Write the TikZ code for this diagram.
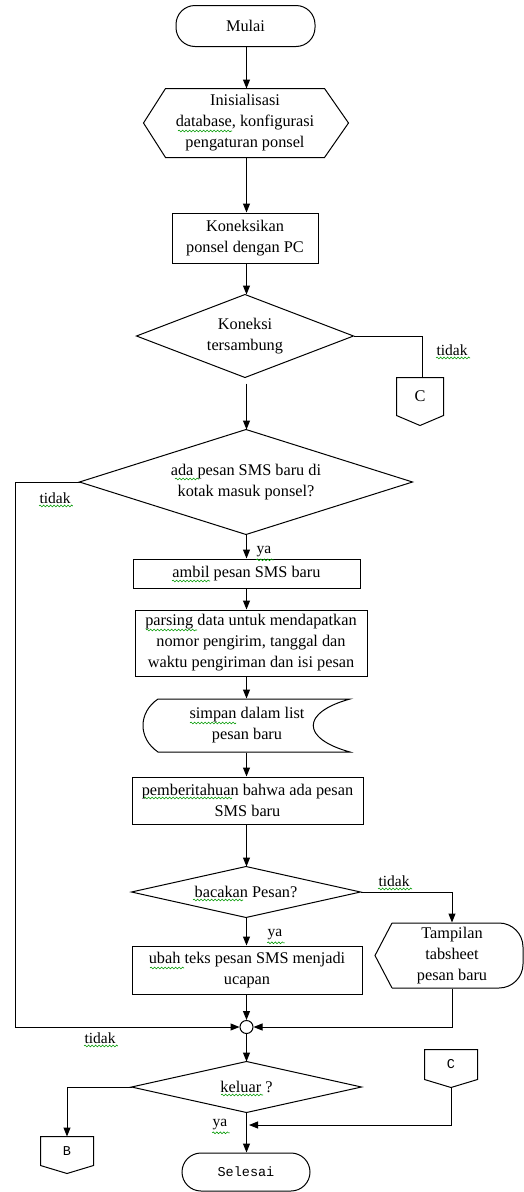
\documentclass[tikz,border=0pt]{standalone}
\usepackage{fontspec}
\setmainfont{Liberation Serif}
\newfontfamily\monofont{Liberation Mono}
\usetikzlibrary{arrows.meta,calc,decorations.pathmorphing}
\begin{document}
\begin{tikzpicture}[x=1pt,y=-1pt,
  line width=1pt,
  every node/.style={font=\fontsize{16.3}{21}\selectfont, align=center, inner sep=0pt},
  arr/.style={-{Triangle[length=9pt,width=7pt]}},
  term/.style={draw, rounded corners=19pt},
  lbl/.style={font=\fontsize{15.5}{18}\selectfont},
  mono/.style={font=\monofont\fontsize{13.5}{16}\selectfont},
  squig/.style={draw=green!60!black, line width=0.6pt, decorate, decoration={snake, amplitude=0.9pt, segment length=3.5pt}},
]
\useasboundingbox (0,0) rectangle (524,1192);
\coordinate (spine) at (246.5,0);
\coordinate (lx) at (15,0);

% nodes
\node[term, minimum width=139pt, minimum height=41pt] (start) at (245.5,26) {Mulai};
\node[minimum width=158pt, minimum height=68pt] (init) at (245,123) {Inisialisasi\\database, konfigurasi\\pengaturan ponsel};
\draw (init.north west) -- (init.north east) -- ([xshift=24pt]init.east) -- (init.south east) -- (init.south west) -- ([xshift=-22pt]init.west) -- cycle;
\node[draw, minimum width=146pt, minimum height=50pt] (konek) at (245,238) {Koneksikan\\ponsel dengan PC};
\node[minimum width=216pt, minimum height=82pt] (d1) at (245,336) {Koneksi\\tersambung};
\draw (d1.north) -- (d1.east) -- (d1.south) -- (d1.west) -- cycle;
\node[minimum width=46pt, minimum height=37pt] (c1) at (420,396.5) {C};
\coordinate (c1tip) at ($(c1.south)+(0,10)$);
\draw (c1.south west) -- (c1.north west) -- (c1.north east) -- (c1.south east) -- (c1tip) -- cycle;

\node[minimum width=332pt, minimum height=104pt] (d2) at (246,482) {ada pesan SMS baru di\\kotak masuk ponsel?};
\draw (d2.north) -- (d2.east) -- (d2.south) -- (d2.west) -- cycle;
\node[draw, minimum width=227pt, minimum height=29pt] (ambil) at (246.5,573.5) {ambil pesan SMS baru};
\node[draw, minimum width=232pt, minimum height=66pt] (parse) at (251,643) {parsing data untuk mendapatkan\\nomor pengirim, tanggal dan\\waktu pengiriman dan isi pesan};
\node[minimum width=180pt, minimum height=53pt] (store) at (247,725.5) {simpan dalam list\\pesan baru};
\draw ($(store.center)+(-89,-26.5)$) -- ($(store.center)+(103,-26.5)$)
  .. controls ($(store.center)+(54,-13)$) and ($(store.center)+(54,13)$) .. ($(store.center)+(103,26.5)$)
  -- ($(store.center)+(-89,26.5)$)
  .. controls ($(store.center)+(-109,13)$) and ($(store.center)+(-109,-13)$) .. cycle;
\node[draw, minimum width=231pt, minimum height=47pt] (pember) at (247.5,800.5) {pemberitahuan bahwa ada pesan\\SMS baru};
\node[minimum width=228pt, minimum height=50pt] (d3) at (246,892) {bacakan Pesan?};
\draw (d3.north) -- (d3.east) -- (d3.south) -- (d3.west) -- cycle;
\node[minimum width=120pt, minimum height=65pt] (disp) at (452,955.5) {Tampilan\\tabsheet\\pesan baru};
\draw ($(disp.center)+(-60,-32.5)$) -- ($(disp.center)+(-77,0)$) -- ($(disp.center)+(-60,32.5)$);
\draw[rounded corners=24pt] ($(disp.center)+(-60,-32.5)$) -- ($(disp.center)+(71,-32.5)$) -- ($(disp.center)+(71,32.5)$) -- ($(disp.center)+(-60,32.5)$);
\node[draw, minimum width=230pt, minimum height=48pt] (ubah) at (247,970) {ubah teks pesan SMS menjadi\\ucapan};
\node[draw, circle, minimum size=13pt] (j) at (246.5,1027) {};
\node[minimum width=229pt, minimum height=50pt] (d4) at (246.5,1087) {keluar ?};
\draw (d4.north) -- (d4.east) -- (d4.south) -- (d4.west) -- cycle;
\node[mono, minimum width=52pt, minimum height=29pt] (c2) at (451,1064.5) {C};
\coordinate (c2tip) at ($(c2.south)+(0,8)$);
\draw (c2.south west) -- (c2.north west) -- (c2.north east) -- (c2.south east) -- (c2tip) -- cycle;
\node[mono, minimum width=52pt, minimum height=28pt] (bcon) at (67,1151) {B};
\coordinate (btip) at ($(bcon.south)+(0,8)$);
\draw (bcon.south west) -- (bcon.north west) -- (bcon.north east) -- (bcon.south east) -- (btip) -- cycle;
\node[term, mono, minimum width=128pt, minimum height=38pt] (sel) at (246,1172) {Selesai};
\coordinate (mrg) at (249,1125);

% labels
\node[lbl] (t1) at (452,350) {tidak};
\node[lbl] (t2) at (55,498) {tidak};
\node[lbl] (y1) at (264,552) {ya};
\node[lbl] (t3) at (394,881) {tidak};
\node[lbl] (y2) at (275,935) {ya};
\node[lbl] (t4) at (100,1038) {tidak};
\node[lbl] (y3) at (220,1125) {ya};

% spell-check underlines
\path[squig] ($(t1.south west)+(0,2)$) -- ($(t1.south east)+(2,2)$);
\path[squig] ($(t2.south west)+(0,2)$) -- ($(t2.south east)+(2,2)$);
\path[squig] ($(t3.south west)+(0,2)$) -- ($(t3.south east)+(2,2)$);
\path[squig] ($(t4.south west)+(0,2)$) -- ($(t4.south east)+(2,2)$);
\path[squig] ($(y1.south west)+(0,2)$) -- ($(y1.south east)+(2,2)$);
\path[squig] ($(y2.south west)+(0,2)$) -- ($(y2.south east)+(2,2)$);
\path[squig] ($(y3.south west)+(0,2)$) -- ($(y3.south east)+(2,2)$);
\path[squig] (178,131) -- (232,131);
\path[squig] (175,479) -- (199,479);
\path[squig] (172,581) -- (210,581);
\path[squig] (146,630) -- (197,630);
\path[squig] (190,723) -- (236,723);
\path[squig] (144,798) -- (232,798);
\path[squig] (193,900) -- (243,900);
\path[squig] (150,968) -- (184,968);
\path[squig] (221,1095) -- (263,1095);

% connectors
\draw[arr] (start.south -| spine) -- (init.north -| spine);
\draw[arr] (init.south -| spine) -- (konek.north -| spine);
\draw[arr] (konek.south -| spine) -- (d1.north -| spine);
\draw (d1.east) -| ([xshift=2pt]c1.north);
\draw[arr] ($(d1.south -| spine)+(0,6)$) -- (d2.north -| spine);
\draw[arr] (d2.south -| spine) -- (ambil.north -| spine);
\draw[arr] (ambil.south -| spine) -- (parse.north -| spine);
\draw[arr] (parse.south -| spine) -- (store.north -| spine);
\draw[arr] (store.south -| spine) -- (pember.north -| spine);
\draw[arr] (pember.south -| spine) -- (d3.north -| spine);
\draw[arr] (d3.east) -| (disp.north);
\draw[arr] (d3.south -| spine) -- (ubah.north -| spine);
\draw[arr] (ubah.south -| spine) -- (j.north);
\draw[arr] (d2.west) -- (d2.west -| lx) -- (lx |- j.west) -- (j.west);
\draw[arr] (disp.south) |- (j.east);
\draw[arr] (j.south) -- (d4.north -| spine);
\draw[arr] (d4.west) -| (bcon.north);
\draw[arr] (d4.south -| spine) -- (sel.north -| spine);
\draw[arr] (c2tip) |- (mrg);
\end{tikzpicture}
\end{document}
